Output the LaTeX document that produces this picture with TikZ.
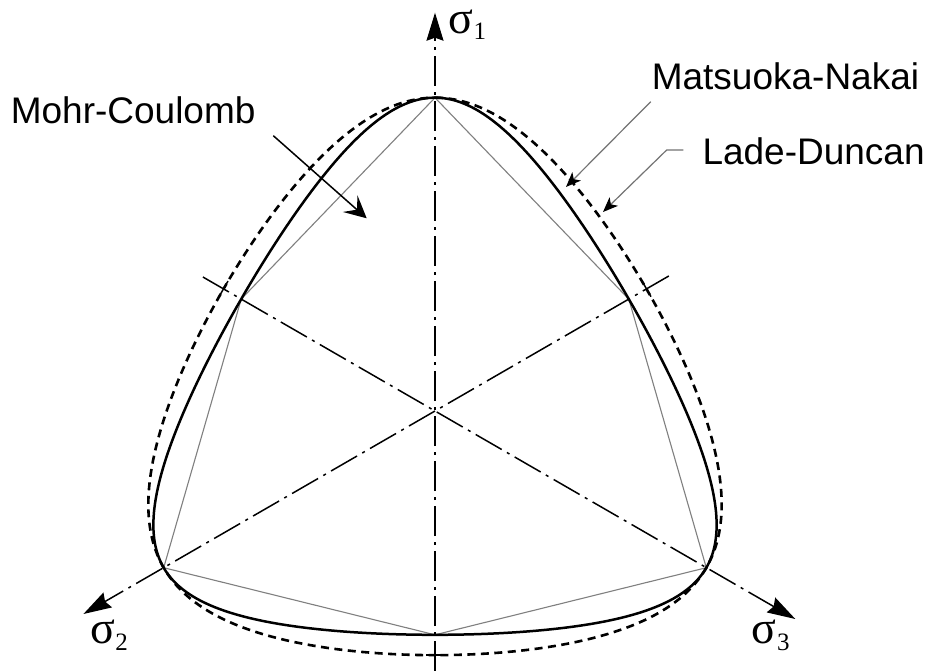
\documentclass[tikz,border=0pt]{standalone}
\usepackage{fontspec}
\setmainfont{Liberation Sans}
\newfontfamily\greekfont{Liberation Serif}
\usetikzlibrary{arrows.meta}
\begin{document}
\begin{tikzpicture}[x=1pt,y=-1pt,
  declare function={
    mnR(\x)=0.9801-0.1403*(1-cos(\x));
    mnTh(\x)=acos(max(-1,min(1,(-2.666667+4.333333*mnR(\x)^2)/(1.587632*mnR(\x)^3))))/3;
    ldR(\x)=0.9801-0.10845*(1-cos(\x));
    ldTh(\x)=acos(max(-1,min(1,(0.5*ldR(\x)^2-0.352)*7.348469/ldR(\x)^3)))/3;
    secn(\x)=floor(\x/60);
    spar(\x)=mod(floor(\x/60),2);
    tpar(\x)=abs(180*spar(\x)-3*(\x-60*floor(\x/60)));
    mnPsi(\x)=90-60*secn(\x)-(60*spar(\x)+(1-2*spar(\x))*mnTh(tpar(\x)));
    ldPsi(\x)=90-60*secn(\x)-(60*spar(\x)+(1-2*spar(\x))*ldTh(tpar(\x)));
  },
  axis/.style={line width=1.5pt, dash pattern=on 30pt off 6pt on 3pt off 6pt},
  axtip/.style={-{Stealth[length=28pt,width=17pt,inset=3pt]}},
  mcline/.style={line width=1.1pt, black!50, line join=miter},
  mnline/.style={line width=2.5pt},
  ldline/.style={line width=2.6pt, dash pattern=on 8pt off 5.5pt},
  tickmark/.style={line width=1.5pt},
  leader/.style={line width=1.2pt, black!55, -{Stealth[length=15pt,width=12pt,inset=4pt,black]}},
  mcarrow/.style={line width=1.5pt, -{Stealth[length=22pt,width=22pt,inset=9pt]}},
  lbl/.style={font=\fontsize{37}{44}\selectfont, inner sep=0pt, anchor=base west},
  sig/.style={font=\greekfont\fontsize{46}{46}\selectfont, inner sep=0pt, anchor=base west},
]
\useasboundingbox (0,0) rectangle (932,671);
\fill[white] (0,0) rectangle (932,671);

% centre and Mohr-Coulomb vertices
\coordinate (C) at (435,411);
\coordinate (c90)  at (435,97.7);
\coordinate (e30)  at (628.8,299.1);
\coordinate (c330) at (706.3,567.7);
\coordinate (e270) at (435,634.8);
\coordinate (c210) at (163.7,567.7);
\coordinate (e150) at (241.2,299.1);

% Mohr-Coulomb hexagon
\draw[mcline] (c90) -- (e30) -- (c330) -- (e270) -- (c210) -- (e150) -- cycle;

% axes
\coordinate (a1bot) at (435,671);
\coordinate (a1tip) at (435,12.7);
\coordinate (a2end) at (668.8,276);
\coordinate (a2tip) at (83.4,614);
\coordinate (a3end) at (202.9,277);
\coordinate (a3tip) at (795.3,619);
\draw[axis,axtip] (a1bot) -- (a1tip);
\draw[axis,axtip] (a2end) -- (a2tip);
\draw[axis,axtip] (a3end) -- (a3tip);

% Matsuoka-Nakai
\draw[mnline] plot[domain=0:359, samples=360, smooth cycle, variable=\x]
  ({435+319.8*mnR(tpar(\x))*cos(mnPsi(\x))},{411-319.8*mnR(tpar(\x))*sin(mnPsi(\x))});
% Lade-Duncan
\draw[ldline] plot[domain=0:359, samples=360, smooth cycle, variable=\x]
  ({435+319.8*ldR(tpar(\x))*cos(ldPsi(\x))},{411-319.8*ldR(tpar(\x))*sin(ldPsi(\x))});

% tick marks
\coordinate (t1a) at (426,655.2); \coordinate (t1b) at (444,655.2);
\coordinate (t2a) at (642,281.1); \coordinate (t2b) at (651,296.7);
\coordinate (t3a) at (228,281.1); \coordinate (t3b) at (219,296.7);
\draw[tickmark] (t1a) -- (t1b);
\draw[tickmark] (t2a) -- (t2b);
\draw[tickmark] (t3a) -- (t3b);

% axis labels
\node[sig] (s1) at (448,33.3) {σ\kern0.5pt\raisebox{-6pt}{\fontsize{25}{25}\selectfont 1}};
\node[sig] (s2) at (90,643.3) {σ\kern0.5pt\raisebox{-7pt}{\fontsize{25}{25}\selectfont 2}};
\node[sig] (s3) at (751.5,643.3) {σ\kern0.5pt\raisebox{-7pt}{\fontsize{25}{25}\selectfont 3}};

% labels
\node[lbl] (mcl) at (10.6,123.3) {Mohr-Coulomb};
\node[lbl] (mnl) at (651.6,90) {Matsuoka-Nakai};
\node[lbl] (ldl) at (702.3,165) {Lade-Duncan};

% pointers
\coordinate (mcA) at (273.3,135.7); \coordinate (mcB) at (366.7,218.3);
\draw[mcarrow] (mcA) -- (mcB);
\coordinate (mnA) at (650.7,101.7); \coordinate (mnB) at (566,187);
\draw[leader] (mnA) -- (mnB);
\coordinate (ldA) at (683.3,150); \coordinate (ldK) at (666.7,150); \coordinate (ldB) at (603,212);
\draw[leader] (ldA) -- (ldK) -- (ldB);
\end{tikzpicture}
\end{document}
